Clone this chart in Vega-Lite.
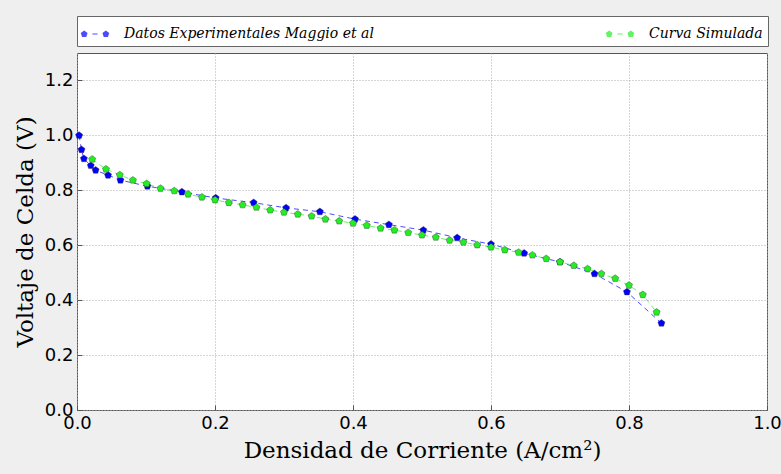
{
  "$schema": "https://vega.github.io/schema/vega-lite/v6.json",
  "width": 690,
  "height": 357,
  "autosize": "none",
  "padding": {"left": 77, "top": 53, "right": 14, "bottom": 64},
  "background": "#efefef",
  "config": {
    "view": {"fill": "white", "stroke": "#555", "strokeWidth": 1},
    "axis": {
      "domain": false,
      "grid": true,
      "gridColor": "#aaaaaa",
      "gridDash": [1, 2],
      "gridWidth": 1,
      "tickColor": "#555",
      "tickSize": -5,
      "labelFont": "DejaVu Sans",
      "labelFontSize": 18,
      "labelColor": "#000",
      "labelFlush": false,
      "titleFont": "DejaVu Serif",
      "titleFontWeight": "normal",
      "titleColor": "#000"
    }
  },
  "data": {
    "values": [
      {"j": 0.003, "v": 1.0, "serie": "Datos Experimentales Maggio et al"},
      {"j": 0.0065, "v": 0.948, "serie": "Datos Experimentales Maggio et al"},
      {"j": 0.010, "v": 0.915, "serie": "Datos Experimentales Maggio et al"},
      {"j": 0.020, "v": 0.89, "serie": "Datos Experimentales Maggio et al"},
      {"j": 0.027, "v": 0.873, "serie": "Datos Experimentales Maggio et al"},
      {"j": 0.045, "v": 0.855, "serie": "Datos Experimentales Maggio et al"},
      {"j": 0.063, "v": 0.837, "serie": "Datos Experimentales Maggio et al"},
      {"j": 0.102, "v": 0.815, "serie": "Datos Experimentales Maggio et al"},
      {"j": 0.152, "v": 0.794, "serie": "Datos Experimentales Maggio et al"},
      {"j": 0.201, "v": 0.772, "serie": "Datos Experimentales Maggio et al"},
      {"j": 0.256, "v": 0.755, "serie": "Datos Experimentales Maggio et al"},
      {"j": 0.303, "v": 0.736, "serie": "Datos Experimentales Maggio et al"},
      {"j": 0.352, "v": 0.722, "serie": "Datos Experimentales Maggio et al"},
      {"j": 0.403, "v": 0.695, "serie": "Datos Experimentales Maggio et al"},
      {"j": 0.452, "v": 0.675, "serie": "Datos Experimentales Maggio et al"},
      {"j": 0.502, "v": 0.655, "serie": "Datos Experimentales Maggio et al"},
      {"j": 0.551, "v": 0.627, "serie": "Datos Experimentales Maggio et al"},
      {"j": 0.600, "v": 0.604, "serie": "Datos Experimentales Maggio et al"},
      {"j": 0.648, "v": 0.571, "serie": "Datos Experimentales Maggio et al"},
      {"j": 0.700, "v": 0.539, "serie": "Datos Experimentales Maggio et al"},
      {"j": 0.750, "v": 0.496, "serie": "Datos Experimentales Maggio et al"},
      {"j": 0.797, "v": 0.43, "serie": "Datos Experimentales Maggio et al"},
      {"j": 0.847, "v": 0.316, "serie": "Datos Experimentales Maggio et al"},
      {"j": 0.022, "v": 0.913, "serie": "Curva Simulada"},
      {"j": 0.042, "v": 0.877, "serie": "Curva Simulada"},
      {"j": 0.062, "v": 0.856, "serie": "Curva Simulada"},
      {"j": 0.081, "v": 0.837, "serie": "Curva Simulada"},
      {"j": 0.101, "v": 0.824, "serie": "Curva Simulada"},
      {"j": 0.121, "v": 0.807, "serie": "Curva Simulada"},
      {"j": 0.141, "v": 0.798, "serie": "Curva Simulada"},
      {"j": 0.161, "v": 0.786, "serie": "Curva Simulada"},
      {"j": 0.181, "v": 0.775, "serie": "Curva Simulada"},
      {"j": 0.20, "v": 0.765, "serie": "Curva Simulada"},
      {"j": 0.22, "v": 0.755, "serie": "Curva Simulada"},
      {"j": 0.24, "v": 0.747, "serie": "Curva Simulada"},
      {"j": 0.26, "v": 0.738, "serie": "Curva Simulada"},
      {"j": 0.28, "v": 0.728, "serie": "Curva Simulada"},
      {"j": 0.30, "v": 0.72, "serie": "Curva Simulada"},
      {"j": 0.32, "v": 0.713, "serie": "Curva Simulada"},
      {"j": 0.34, "v": 0.706, "serie": "Curva Simulada"},
      {"j": 0.36, "v": 0.695, "serie": "Curva Simulada"},
      {"j": 0.38, "v": 0.688, "serie": "Curva Simulada"},
      {"j": 0.40, "v": 0.68, "serie": "Curva Simulada"},
      {"j": 0.42, "v": 0.672, "serie": "Curva Simulada"},
      {"j": 0.44, "v": 0.662, "serie": "Curva Simulada"},
      {"j": 0.46, "v": 0.655, "serie": "Curva Simulada"},
      {"j": 0.48, "v": 0.646, "serie": "Curva Simulada"},
      {"j": 0.50, "v": 0.637, "serie": "Curva Simulada"},
      {"j": 0.52, "v": 0.629, "serie": "Curva Simulada"},
      {"j": 0.54, "v": 0.618, "serie": "Curva Simulada"},
      {"j": 0.56, "v": 0.611, "serie": "Curva Simulada"},
      {"j": 0.58, "v": 0.601, "serie": "Curva Simulada"},
      {"j": 0.60, "v": 0.593, "serie": "Curva Simulada"},
      {"j": 0.62, "v": 0.583, "serie": "Curva Simulada"},
      {"j": 0.64, "v": 0.574, "serie": "Curva Simulada"},
      {"j": 0.66, "v": 0.564, "serie": "Curva Simulada"},
      {"j": 0.68, "v": 0.551, "serie": "Curva Simulada"},
      {"j": 0.70, "v": 0.539, "serie": "Curva Simulada"},
      {"j": 0.72, "v": 0.526, "serie": "Curva Simulada"},
      {"j": 0.74, "v": 0.514, "serie": "Curva Simulada"},
      {"j": 0.76, "v": 0.496, "serie": "Curva Simulada"},
      {"j": 0.78, "v": 0.479, "serie": "Curva Simulada"},
      {"j": 0.80, "v": 0.454, "serie": "Curva Simulada"},
      {"j": 0.82, "v": 0.42, "serie": "Curva Simulada"},
      {"j": 0.84, "v": 0.356, "serie": "Curva Simulada"}
    ]
  },
  "encoding": {
    "x": {
      "field": "j",
      "type": "quantitative",
      "scale": {"domain": [0, 1], "nice": false, "zero": false},
      "axis": {
        "title": "Densidad de Corriente (A/cm²)",
        "titleFontSize": 23,
        "values": [0, 0.2, 0.4, 0.6, 0.8, 1.0],
        "format": ".1f",
        "labelPadding": 9,
        "titlePadding": 7
      }
    },
    "y": {
      "field": "v",
      "type": "quantitative",
      "scale": {"domain": [0, 1.3], "nice": false},
      "axis": {
        "title": "Voltaje de Celda (V)",
        "titleFontSize": 23,
        "values": [0, 0.2, 0.4, 0.6, 0.8, 1.0, 1.2],
        "format": ".1f",
        "labelPadding": 9,
        "titlePadding": 7
      }
    },
    "color": {
      "field": "serie",
      "type": "nominal",
      "scale": {
        "domain": ["Datos Experimentales Maggio et al", "Curva Simulada"],
        "range": ["#0000ff", "#22ee22"]
      }
    }
  },
  "layer": [
    {
      "mark": {"type": "line", "strokeDash": [5, 4], "strokeWidth": 1, "opacity": 0.7},
      "encoding": {"detail": {"field": "serie"}}
    },
    {
      "mark": {
        "type": "point",
        "filled": true,
        "opacity": 1,
        "size": 55,
        "shape": "M0,-1L0.951,-0.309L0.588,0.809L-0.588,0.809L-0.951,-0.309Z",
        "stroke": "#333",
        "strokeWidth": 0.4
      },
      "encoding": {
        "color": {
          "field": "serie",
          "type": "nominal",
          "scale": {
            "domain": ["Datos Experimentales Maggio et al", "Curva Simulada"],
            "range": ["#0000ff", "#22ee22"]
          },
          "legend": {
            "title": null,
            "orient": "none",
            "legendX": 0,
            "legendY": -37,
            "direction": "horizontal",
            "columns": 2,
            "columnPadding": 231,
            "padding": 5,
            "fillColor": "white",
            "strokeColor": "#666",
            "cornerRadius": 0,
            "symbolType": "M-0.85,-0.28L-0.584,-0.087L-0.685,0.227L-1.015,0.227L-1.116,-0.087ZM0.85,-0.28L1.116,-0.087L1.015,0.227L0.685,0.227L0.584,-0.087ZM-0.2,-0.035L0.2,-0.035L0.2,0.035L-0.2,0.035Z",
            "symbolSize": 650,
            "symbolStrokeWidth": 0,
            "symbolOffset": 0,
            "labelFont": "DejaVu Serif",
            "labelFontStyle": "italic",
            "labelFontSize": 14,
            "labelColor": "#000",
            "labelOffset": 16,
            "labelLimit": 400
          }
        }
      }
    }
  ]
}
